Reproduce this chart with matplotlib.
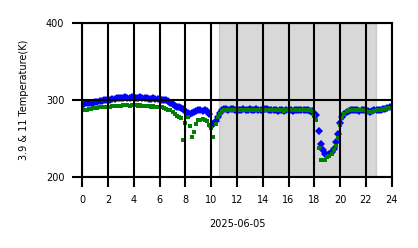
import numpy as np
import matplotlib
matplotlib.use('Agg')
from matplotlib import pyplot as plt

# 10-minute samples over the day (hours)
hours = np.arange(0, 24, 1 / 6)

# 3.9 um brightness temperature (K)
t39 = [
    293, 294, 295, 295, 296, 296,
    297, 297, 298, 298, 299, 299,
    300, 300, 301, 301, 302, 302,
    302, 302, 303, 302, 302, 303,
    303, 302, 302, 303, 302, 302,
    302, 301, 301, 302, 301, 301,
    301, 300, 300, 299, 298, 296,
    294, 292, 291, 290, 289, 288,
    285, 283, 282, 283, 284, 285,
    286, 286, 285, 286, 285, 282,
    266, 268, 272, 278, 283, 286,
    288, 288, 287, 288, 288, 287,
    287, 286, 287, 288, 287, 287,
    288, 287, 287, 288, 287, 286,
    287, 288, 288, 287, 286, 286,
    286, 285, 286, 286, 285, 286,
    286, 286, 285, 286, 287, 286,
    286, 287, 286, 286, 285, 285,
    282, 280, 259, 242, 235, 230,
    228, 229, 232, 236, 245, 256,
    270, 278, 282, 284, 285, 286,
    286, 287, 286, 285, 286, 286,
    285, 285, 284, 285, 286, 286,
    287, 287, 288, 288, 289, 290,
]

# 11 um brightness temperature (K)
t11 = [
    286, 287, 287, 288, 288, 289,
    289, 289, 290, 290, 290, 291,
    291, 291, 292, 292, 292, 292,
    292, 293, 293, 293, 292, 293,
    293, 293, 292, 293, 292, 292,
    292, 292, 291, 292, 291, 291,
    291, 290, 289, 288, 287, 286,
    284, 281, 279, 277, 276, 247,
    270, 278, 266, 252, 258, 268,
    273, 274, 275, 274, 272, 267,
    263, 252, 268, 277, 282, 285,
    287, 287, 286, 287, 287, 286,
    286, 286, 287, 287, 286, 286,
    287, 287, 286, 287, 286, 286,
    287, 287, 287, 286, 286, 286,
    286, 286, 286, 286, 285, 286,
    286, 286, 286, 286, 287, 286,
    286, 287, 286, 286, 286, 285,
    279, 273, 237, 222, 222, 222,
    225, 227, 230, 234, 240, 250,
    267, 276, 282, 285, 286, 286,
    287, 287, 286, 286, 287, 286,
    285, 284, 284, 284, 285, 286,
    287, 287, 288, 288, 289, 289,
]

night = (10.6, 22.8)
xticks = list(range(0, 25, 2))
yticks = [200, 300, 400]

fig = plt.figure(figsize=(4.18, 2.48), dpi=100)
ax = fig.add_axes([0.197, 0.2875, 0.74, 0.6215])

ax.axvspan(night[0], night[1], color='gray', alpha=0.3)
ax.plot(hours, t39, linestyle='none', marker='D', markersize=3.6,
        color='blue', markeredgewidth=0)
ax.plot(hours, t11, linestyle='none', marker='s', markersize=3.4,
        color='green', markeredgewidth=0)

ax.set_xlim(0, 24)
ax.set_ylim(200, 400)
ax.set_xticks(xticks)
ax.set_yticks(yticks)
ax.set_axisbelow(False)
ax.grid(True, color='black', linewidth=1.5)
ax.tick_params(direction='out', length=7, width=1.5, pad=6,
               labelsize=7, colors='black')
for s in ax.spines.values():
    s.set_linewidth(1.5)

ax.set_xlabel("2025-06-05", fontsize=7, labelpad=10)
ax.set_ylabel("3.9 & 11 Temperature(K)", fontsize=7, labelpad=12)

plt.savefig("out.png", dpi=100)
